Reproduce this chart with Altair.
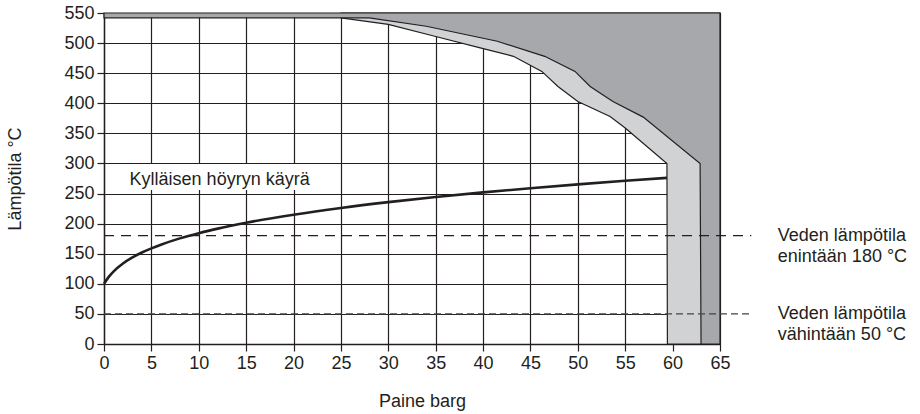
import altair as alt
import pandas as pd

# ---- data ----
# saturated steam curve (pressure barg -> temperature °C)
sat_p = [0, 0.5, 1, 2, 3, 4, 5, 6, 8, 10, 12, 15, 20, 25, 30, 35, 40, 45, 50, 55, 59.4]
sat_t = [100, 111.6, 120.4, 133.7, 143.8, 152.0, 158.9, 165.0, 175.5, 184.2, 191.7,
         201.5, 214.9, 226.1, 235.7, 244.2, 251.9, 258.9, 265.3, 271.2, 276.1]

# outer limit (dark grey above)
outer_p = [0, 28, 34, 41.5, 46.5, 49.7, 51.3, 53.7, 56.9, 62.9, 63.0, 65]
outer_t = [542, 542, 528, 503, 478, 453, 428, 403, 377, 300, 0, 0]

# inner limit (light grey between inner and outer)
inner_p = [25, 30, 35, 39.7, 43.2, 46.2, 47.9, 50.0, 53.4, 55.0, 59.4, 59.45, 65]
inner_t = [542, 531, 511, 492, 478, 453, 428, 403, 378, 359, 300, 0, 0]

top_t = 550

# water temperature limit lines
lim_t = [180, 50]
lim_p_end = 68.3
lim_labels = ["Veden lämpötila\nenintään 180 °C", "Veden lämpötila\nvähintään 50 °C"]
lim_label_p = 71.1

curve_label = "Kylläisen höyryn käyrä"
curve_label_p = 2.7
curve_label_t = 272.7
# white label background box (p0, p1, t0, t1)
box_p = [0.3, 22.5]
box_t = [256, 299.3]

x_ticks = list(range(0, 70, 5))
y_ticks = list(range(0, 600, 50))

INK = "#231f20"
DARK = "#a7a8ab"
LIGHT = "#d1d2d4"
FONT = "Liberation Sans"

# ---- tables ----
sat_df = pd.DataFrame({"p": sat_p, "t": sat_t})
outer_df = pd.DataFrame({"p": outer_p, "t": outer_t, "top": [top_t] * len(outer_p)})
inner_df = pd.DataFrame({"p": inner_p, "t": inner_t, "top": [top_t] * len(inner_p)})
lim_df = pd.DataFrame({"t": lim_t, "p": [0] * len(lim_t), "p1": [lim_p_end] * len(lim_t),
                       "lab": lim_labels, "lp": [lim_label_p] * len(lim_t)})
cl_df = pd.DataFrame({"p": [curve_label_p], "t": [curve_label_t], "lab": [curve_label]})
box_df = pd.DataFrame({"p": [box_p[0]], "p1": [box_p[1]], "t": [box_t[0]], "t1": [box_t[1]]})

xs = alt.Scale(domain=[0, 65], nice=False, zero=False)
ys = alt.Scale(domain=[0, 550], nice=False, zero=False)

x_axis = alt.Axis(values=x_ticks, tickCount=14, title="Paine barg", grid=True,
                  titleX=318, titleY=48, labelOverlap=False, labelFlush=False)
y_axis = alt.Axis(values=y_ticks, tickCount=12, title="Lämpötila °C", grid=True,
                  titlePadding=39, labelOverlap=False, labelFlush=False)


def X(field):
    return alt.X(field, type="quantitative", scale=xs, axis=x_axis)


def Y(field):
    return alt.Y(field, type="quantitative", scale=ys, axis=y_axis)


light = alt.Chart(inner_df).mark_area(fill=LIGHT, stroke=INK, strokeWidth=1.2).encode(
    x=X("p"), y=Y("t"), y2="top:Q")
dark = alt.Chart(outer_df).mark_area(fill=DARK, stroke=INK, strokeWidth=1.2).encode(
    x=X("p"), y=Y("t"), y2="top:Q")
box = alt.Chart(box_df).mark_rect(fill="white", stroke=None).encode(
    x=X("p"), x2="p1:Q", y=Y("t"), y2="t1:Q")
sat = alt.Chart(sat_df).mark_line(color=INK, strokeWidth=2.6, interpolate="monotone").encode(
    x=X("p"), y=Y("t"))
rule180 = alt.Chart(lim_df[lim_df.t == 180]).mark_rule(
    color=INK, strokeWidth=1.2, strokeDash=[10, 7]).encode(x=X("p"), x2="p1:Q", y=Y("t"))
rule50 = alt.Chart(lim_df[lim_df.t == 50]).mark_rule(
    color="#444444", strokeWidth=1.2, strokeDash=[7, 4]).encode(x=X("p"), x2="p1:Q", y=Y("t"))
lim_text = alt.Chart(lim_df).mark_text(
    align="left", baseline="middle", lineBreak="\n", lineHeight=21.5,
    fontSize=18, font=FONT, color=INK).encode(x=X("lp"), y=Y("t"), text="lab:N")
cl_text = alt.Chart(cl_df).mark_text(
    align="left", baseline="middle", fontSize=18, font=FONT, color=INK).encode(
    x=X("p"), y=Y("t"), text="lab:N")

chart = alt.layer(light, dark, box, sat, rule180, rule50, lim_text, cl_text).properties(
    width=616, height=331,
    autosize=alt.AutoSizeParams(type="none"),
    padding={"left": 104, "top": 13, "right": 200, "bottom": 70},
    background="white",
).configure_view(stroke=None).configure_axis(
    gridColor=INK, gridWidth=1.2, gridOpacity=1,
    domainColor=INK, domainWidth=1.4, tickColor=INK, tickWidth=1.2, tickSize=7,
    labelFont=FONT, labelFontSize=18, labelColor=INK, labelPadding=3,
    titleFont=FONT, titleFontSize=18, titleColor=INK, titleFontWeight="normal",
    labelFlush=False, labelOverlap=False,
)

chart.save("out.html", embed_options={"renderer": "svg", "actions": False})
